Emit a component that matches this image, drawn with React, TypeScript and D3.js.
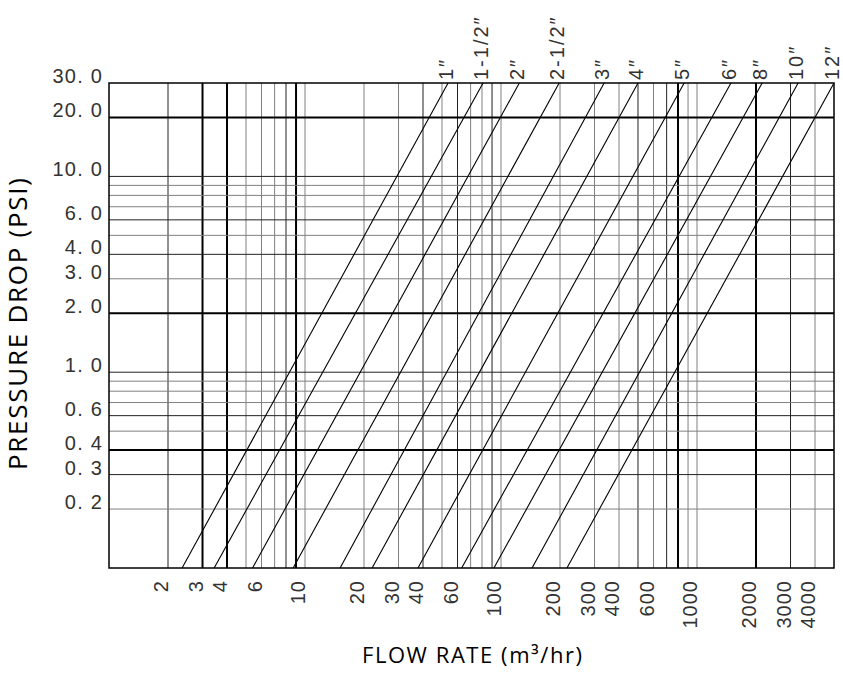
import { useEffect, useRef } from "react";
import * as d3 from "d3";

const pipeSizes = ["1″", "1-1/2″", "2″", "2-1/2″", "3″", "4″", "5″", "6″", "8″", "10″", "12″"];
const flowAtBottom = [2.36, 3.44, 5.4, 8.7, 15.1, 22, 37.7, 63, 92, 144, 217];
const flowAtTop = [53.7, 81, 124, 198, 336, 500, 860, 1490, 2150, 3280, 5000];
const pressureEnds = [0.1, 30];

const flowTicks = [2, 3, 4, 6, 10, 20, 30, 40, 60, 100, 200, 300, 400, 600, 1000, 2000, 3000, 4000];
const pressureTicks = [30, 20, 10, 6, 4, 3, 2, 1, 0.6, 0.4, 0.3, 0.2];
const pressureTickLabels = ["30. 0", "20. 0", "10. 0", "6. 0", "4. 0", "3. 0", "2. 0", "1. 0", "0. 6", "0. 4", "0. 3", "0. 2"];

const flowGrid = [2, 3, 4, 5, 6, 7, 8, 9, 10, 20, 30, 40, 50, 60, 70, 80, 90, 100,
  200, 300, 400, 500, 600, 700, 800, 900, 1000, 2000, 3000, 4000];
const pressureGrid = [0.2, 0.3, 0.4, 0.5, 0.6, 0.7, 0.8, 0.9, 1, 2, 3, 4, 5, 6, 7, 8, 9, 10, 20];
const flowGridBold = [3, 4, 9, 800, 2000];
const flowGridDark = [2, 8, 40, 60, 90, 500, 700, 3000];
const pressureGridBold = [20, 2, 0.4];
const pressureGridDark = [10, 6, 4, 1, 0.6, 0.3];

const W = 843;
const H = 674;
const labelFont = "'Liberation Sans', Arial, sans-serif";
const titleFont = "'Open Sans', 'Noto Sans', sans-serif";

const App = () => {
  const svgRef = useRef<SVGSVGElement | null>(null);

  useEffect(() => {
    if (!svgRef.current) return;
    const svg = d3.select(svgRef.current);
    svg.selectAll("*").remove();

    const margin = { top: 83, right: 9, bottom: 106, left: 109 };
    const x = d3.scaleLog().domain([1, 5000]).range([margin.left, W - margin.right]);
    const y = d3.scaleLog().domain([0.1, 30]).range([H - margin.bottom, margin.top]);
    const [x0, x1] = x.range();
    const [y0, y1] = y.range();

    const gridStyle = (v: number, bold: number[], dark: number[]) =>
      bold.includes(v) ? { c: "#000", w: 2 } : dark.includes(v) ? { c: "#222", w: 1 } : { c: "#808080", w: 1 };

    // vertical grid
    svg.append("g")
      .selectAll("line")
      .data(flowGrid)
      .enter().append("line")
      .attr("x1", d => x(d)).attr("x2", d => x(d))
      .attr("y1", y0).attr("y2", y1)
      .attr("stroke", d => gridStyle(d, flowGridBold, flowGridDark).c)
      .attr("stroke-width", d => gridStyle(d, flowGridBold, flowGridDark).w);

    // horizontal grid
    svg.append("g")
      .selectAll("line")
      .data(pressureGrid)
      .enter().append("line")
      .attr("x1", x0).attr("x2", x1)
      .attr("y1", d => y(d)).attr("y2", d => y(d))
      .attr("stroke", d => gridStyle(d, pressureGridBold, pressureGridDark).c)
      .attr("stroke-width", d => gridStyle(d, pressureGridBold, pressureGridDark).w);

    // frame
    svg.append("rect")
      .attr("x", x0).attr("y", y1)
      .attr("width", x1 - x0).attr("height", y0 - y1)
      .attr("fill", "none")
      .attr("stroke", "#000")
      .attr("stroke-width", 1.5);

    // pipe size lines
    const line = d3.line<[number, number]>()
      .x(d => x(d[0]))
      .y(d => y(d[1]));

    const curves = pipeSizes.map((name, i) => ({
      name,
      pts: [[flowAtBottom[i], pressureEnds[0]], [flowAtTop[i], pressureEnds[1]]] as [number, number][],
    }));

    svg.append("g")
      .selectAll("path")
      .data(curves)
      .enter().append("path")
      .attr("d", d => line(d.pts))
      .attr("fill", "none")
      .attr("stroke", "#000")
      .attr("stroke-width", 1.1);

    // size labels along the top
    svg.append("g")
      .selectAll("text")
      .data(curves)
      .enter().append("text")
      .attr("transform", d => `translate(${x(d.pts[1][0]) + 5},${y1 - 3}) rotate(-90)`)
      .attr("text-anchor", "start")
      .attr("font-family", labelFont)
      .attr("font-size", 20)
      .attr("letter-spacing", 2)
      .attr("fill", "#333")
      .text(d => d.name);

    // y tick labels
    svg.append("g")
      .selectAll("text")
      .data(pressureTicks)
      .enter().append("text")
      .attr("x", 103)
      .attr("y", d => y(d))
      .attr("text-anchor", "end")
      .attr("font-family", labelFont)
      .attr("font-size", 20)
      .attr("letter-spacing", 1.2)
      .attr("fill", "#333")
      .text((_, i) => pressureTickLabels[i]);

    // x tick labels
    svg.append("g")
      .selectAll("text")
      .data(flowTicks)
      .enter().append("text")
      .attr("transform", d => `translate(${x(d)},${y0 + 12}) rotate(-90)`)
      .attr("text-anchor", "end")
      .attr("font-family", labelFont)
      .attr("font-size", 20)
      .attr("letter-spacing", 1)
      .attr("fill", "#333")
      .text(d => String(d));

    // axis titles
    svg.append("text")
      .attr("x", 362)
      .attr("y", 663)
      .attr("font-family", titleFont)
      .attr("font-size", 22)
      .attr("textLength", 220)
      .attr("fill", "#000")
      .text("FLOW RATE (m³/hr)");

    svg.append("text")
      .attr("transform", "translate(27,470) rotate(-90)")
      .attr("font-family", titleFont)
      .attr("font-size", 26)
      .attr("textLength", 292)
      .attr("fill", "#000")
      .text("PRESSURE DROP (PSI)");
  }, []);

  return (
    <svg
      ref={svgRef}
      width={W}
      height={H}
      style={{ position: "absolute", left: 0, top: 0, background: "#fff" }}
    />
  );
};

export default App;
